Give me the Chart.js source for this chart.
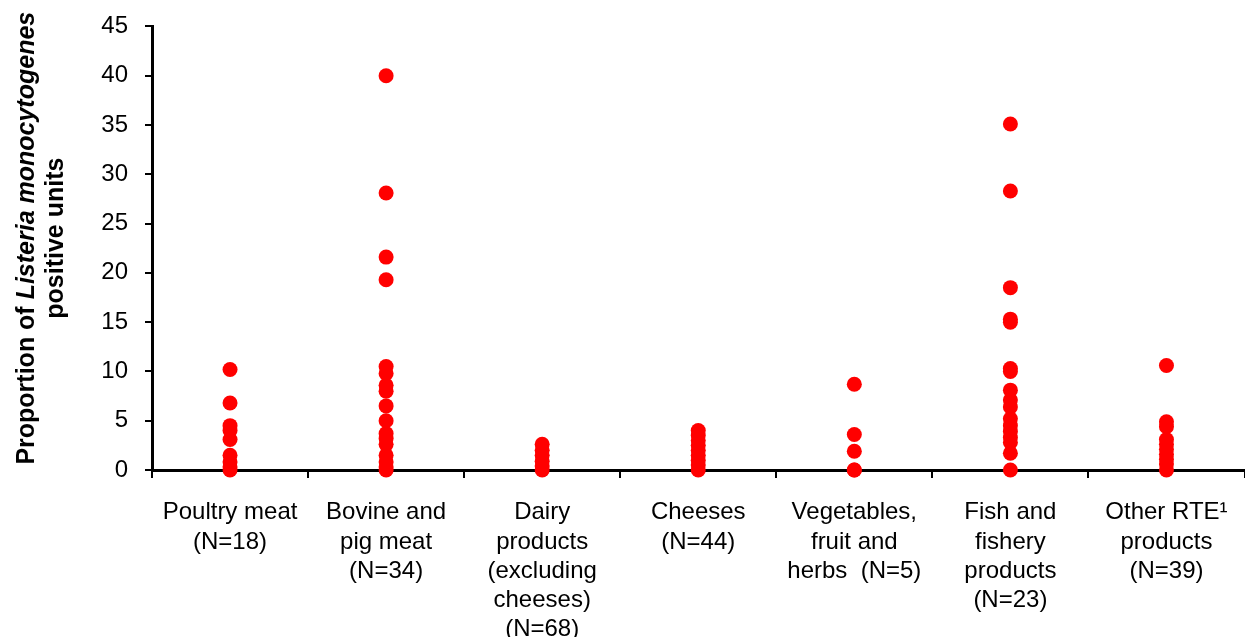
<!DOCTYPE html>
<html>
<head>
<meta charset="utf-8">
<script src="https://cdn.jsdelivr.net/npm/chart.js@4"></script>
<style>
  html, body { margin: 0; padding: 0; background: #fff; overflow: hidden; }
  #wrap { width: 1252px; height: 642px; margin-top: -5px; }
</style>
</head>
<body>
<div id="wrap"><canvas id="grafica"></canvas></div>
<script>
// Proporción de unidades positivas a Listeria por categoría de alimento.

var categorias = ['Poultry meat', 'Bovine and pig meat', 'Dairy products',
    'Cheeses', 'Vegetables, fruit and herbs', 'Fish and fishery products',
    'Other RTE products'];

var etiquetasX = [
    ['Poultry meat', '(N=18)'],
    ['Bovine and', 'pig meat', '(N=34)'],
    ['Dairy', 'products', '(excluding', 'cheeses)', '(N=68)'],
    ['Cheeses', '(N=44)'],
    ['Vegetables,', 'fruit and', 'herbs  (N=5)'],
    ['Fish and', 'fishery', 'products', '(N=23)'],
    ['Other RTE\u00b9', 'products', '(N=39)']
];

var poultryMeat = [10.2, 6.8, 4.5, 4.0, 3.1, 1.5, 0.8, 0.3, 0];
var bovinePigMeat = [40, 28.1, 21.6, 19.3, 10.5, 9.8, 8.6, 8.0, 6.5, 5.0,
    3.7, 3.2, 2.6, 1.5, 0.8, 0.3, 0];
var dairyProducts = [2.6, 2.0, 1.5, 0.9, 0.4, 0];
var cheeses = [4.0, 3.5, 3.0, 2.5, 2.0, 1.5, 1.0, 0.5, 0];
var vegetables = [8.7, 3.6, 1.9, 0, 0];
var fishProducts = [35.1, 28.3, 18.5, 15.3, 15.0, 10.3, 10.0, 8.1, 7.1, 6.4,
    5.2, 4.5, 3.9, 3.3, 2.8, 1.7, 0];
var otherRte = [10.6, 4.9, 4.4, 3.1, 2.6, 2.1, 1.6, 1.1, 0.6, 0];

var seriesValores = [poultryMeat, bovinePigMeat, dairyProducts, cheeses,
    vegetables, fishProducts, otherRte];

var ticksY = [0, 5, 10, 15, 20, 25, 30, 35, 40, 45];

var rojo = '#ff0000';
var fuente = 'Arial, "Liberation Sans", sans-serif';

// Arma los puntos de cada categoría.
var puntos = [];
for (var i = 0; i < categorias.length; i++) {
    for (var j = 0; j < seriesValores[i].length; j++) {
        puntos.push({ x: categorias[i], y: seriesValores[i][j] });
    }
}

// Título del eje Y con parte en cursiva.
var tituloY = {
    id: 'tituloY',
    afterDraw: function (chart) {
        var ctx = chart.ctx;
        var cy = (chart.chartArea.top + chart.chartArea.bottom) / 2 - 10;
        ctx.save();
        ctx.fillStyle = '#000';
        ctx.textBaseline = 'middle';

        var partes = [
            { t: 'Proportion of ', f: 'bold 25px ' + fuente },
            { t: 'Listeria monocytogenes', f: 'italic bold 25px ' + fuente }
        ];
        var total = 0;
        partes.forEach(function (p) {
            ctx.font = p.f;
            p.w = ctx.measureText(p.t).width;
            total += p.w;
        });

        ctx.translate(27, cy);
        ctx.rotate(-Math.PI / 2);
        var x = -total / 2;
        ctx.textAlign = 'left';
        partes.forEach(function (p) {
            ctx.font = p.f;
            ctx.fillText(p.t, x, 0);
            x += p.w;
        });
        ctx.font = 'bold 25px ' + fuente;
        ctx.textAlign = 'center';
        ctx.fillText('positive units', 0, 29);
        ctx.restore();
    }
};

var context = document.getElementById('grafica').getContext('2d');

var chart = new Chart(context, {
    type: 'scatter',
    data: {
        datasets: [{
            data: puntos,
            backgroundColor: rojo,
            borderWidth: 0,
            pointRadius: 7.5,
            pointHoverRadius: 7.5,
            clip: false
        }]
    },
    options: {
        responsive: true,
        maintainAspectRatio: false,
        animation: false,
        layout: { padding: { top: 20, right: 0, left: 0, bottom: 0 } },
        plugins: {
            legend: { display: false },
            tooltip: { enabled: false }
        },
        scales: {
            x: {
                type: 'category',
                labels: categorias,
                offset: true,
                grid: {
                    offset: true,
                    drawOnChartArea: false,
                    drawTicks: true,
                    tickLength: 8,
                    color: '#000',
                    lineWidth: 2
                },
                border: { display: true, color: '#000', width: 3 },
                ticks: {
                    color: '#000',
                    maxRotation: 0,
                    autoSkip: false,
                    padding: 20,
                    font: { family: fuente, size: 24, lineHeight: 1.22 },
                    callback: function (val, idx) {
                        return etiquetasX[idx];
                    }
                },
                afterFit: function (scale) {
                    scale.height = 167;
                }
            },
            y: {
                min: 0,
                max: 45,
                afterBuildTicks: function (scale) {
                    scale.ticks = ticksY.map(function (v) { return { value: v }; });
                },
                grid: {
                    drawOnChartArea: false,
                    drawTicks: true,
                    tickLength: 7,
                    color: '#000',
                    lineWidth: 2
                },
                border: { display: true, color: '#000', width: 3 },
                ticks: {
                    color: '#000',
                    padding: 17,
                    font: { family: fuente, size: 24 }
                },
                afterFit: function (scale) {
                    scale.width = 152;
                }
            }
        }
    },
    plugins: [tituloY]
});
</script>
</body>
</html>
